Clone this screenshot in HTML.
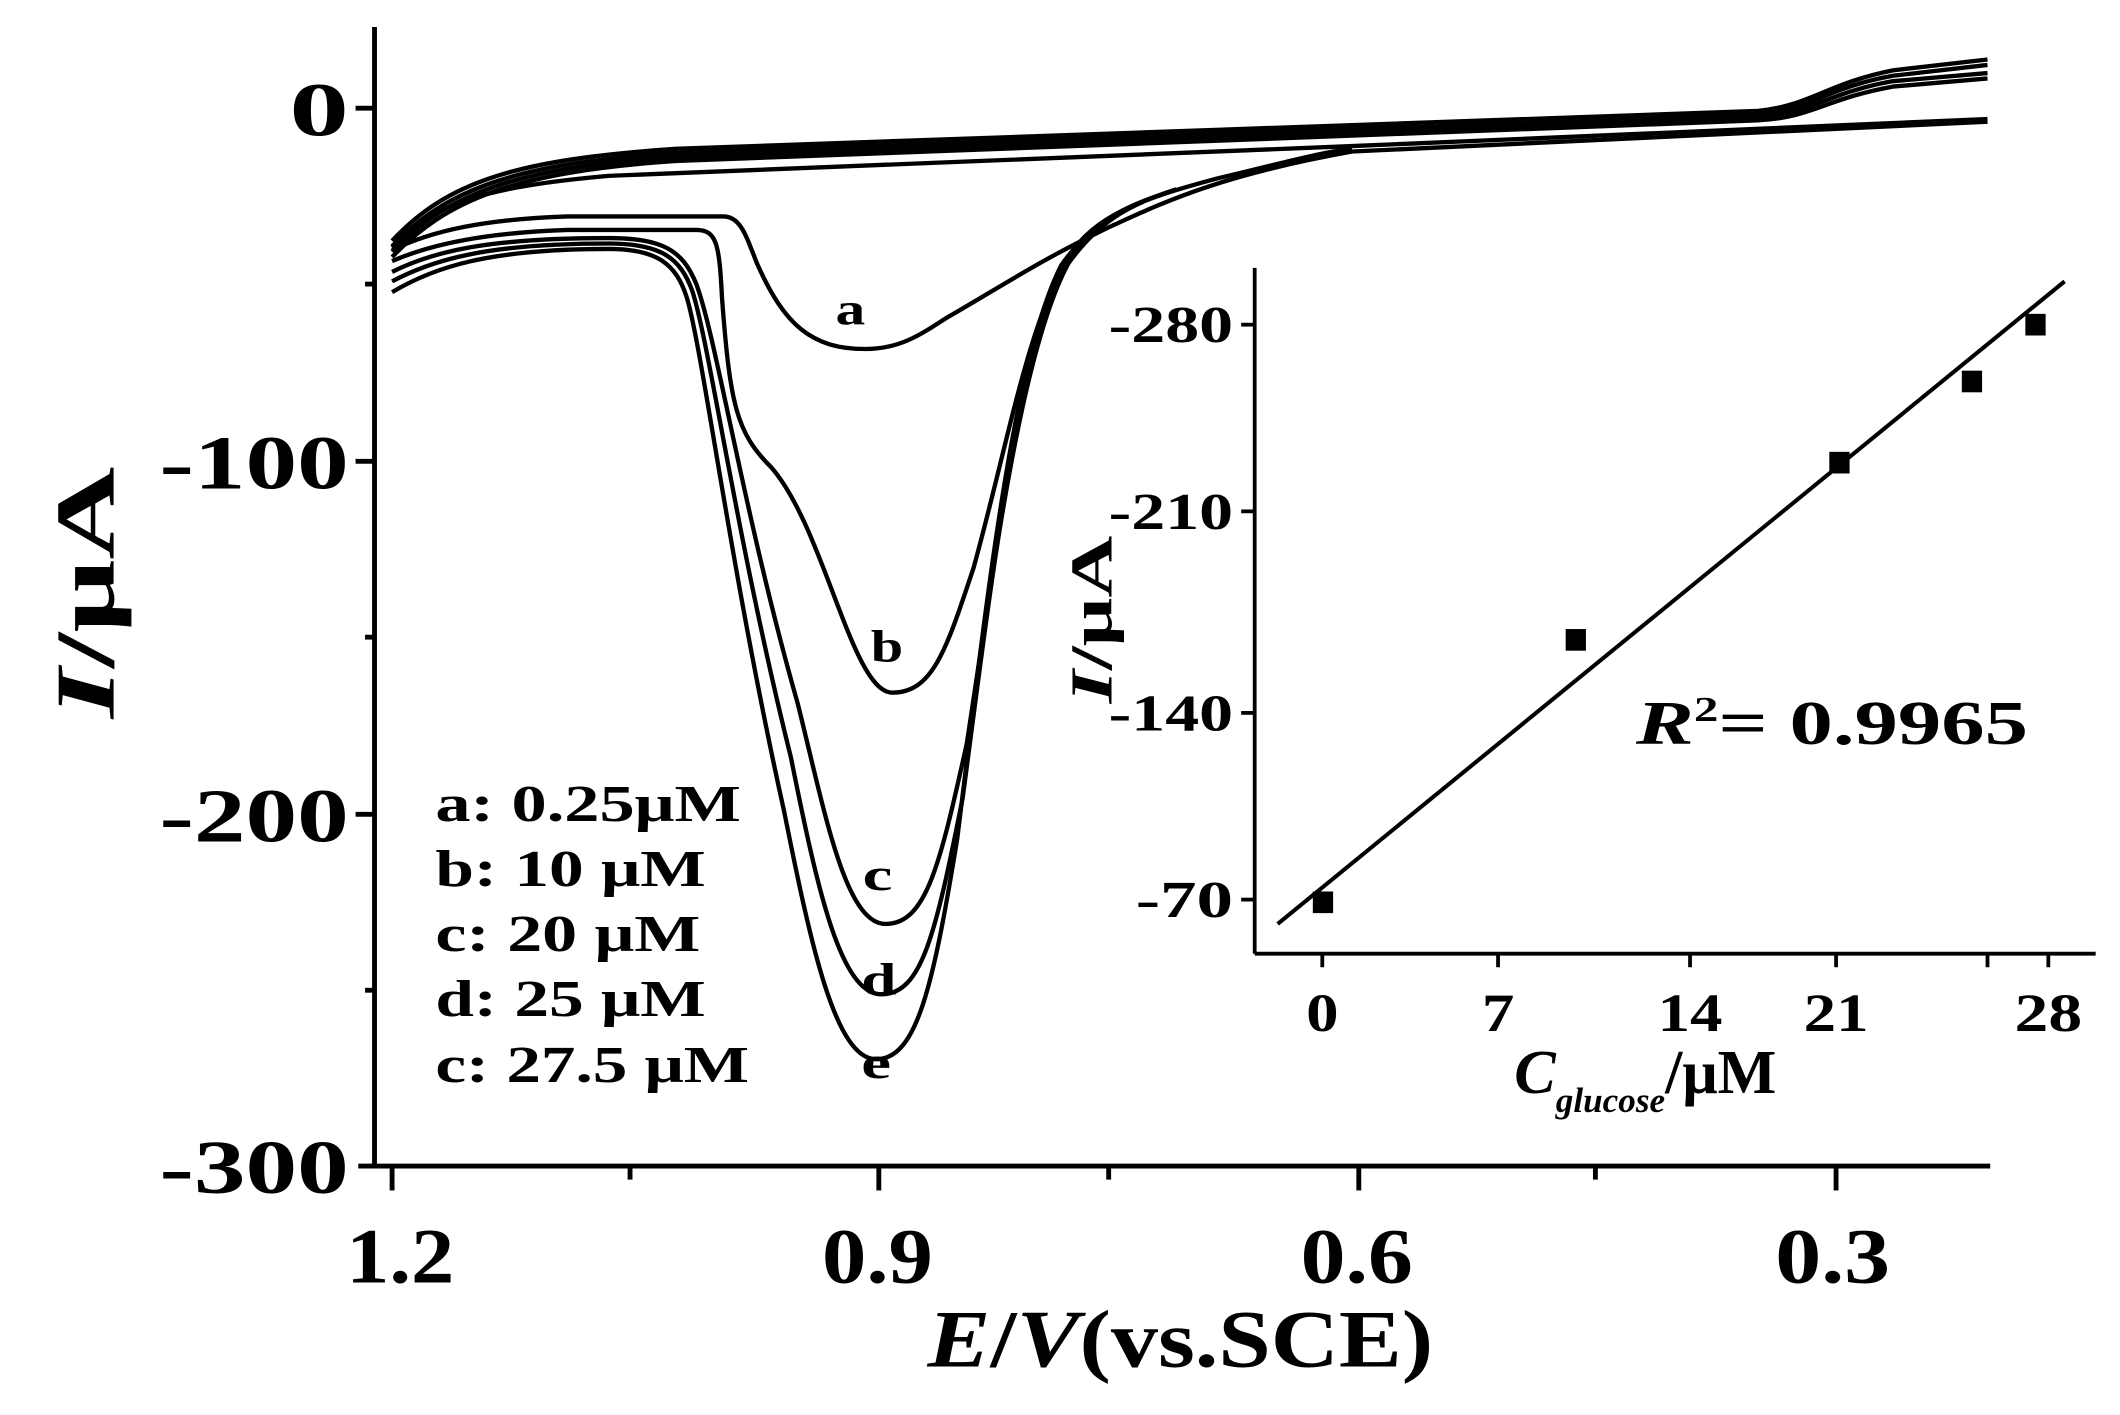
<!DOCTYPE html>
<html><head><meta charset="utf-8"><style>
html,body{margin:0;padding:0;background:#fff;}
svg{display:block;}
text{font-family:"Liberation Serif",serif;font-weight:bold;fill:#000;}
</style></head><body>
<svg width="2120" height="1415" viewBox="0 0 1568 1046" preserveAspectRatio="none" xmlns="http://www.w3.org/2000/svg">
<g fill="none" stroke="#000" stroke-width="3.6">
<line x1="277" y1="20" x2="277" y2="862"/>
<line x1="265" y1="862" x2="1472" y2="862"/>
<line x1="263" y1="80" x2="277" y2="80"/>
<line x1="263" y1="341" x2="277" y2="341"/>
<line x1="263" y1="602" x2="277" y2="602"/>
<line x1="270" y1="210" x2="277" y2="210"/>
<line x1="270" y1="471" x2="277" y2="471"/>
<line x1="270" y1="732" x2="277" y2="732"/>
<line x1="290" y1="862" x2="290" y2="880"/>
<line x1="650" y1="862" x2="650" y2="880"/>
<line x1="1005" y1="862" x2="1005" y2="880"/>
<line x1="1358" y1="862" x2="1358" y2="880"/>
<line x1="466" y1="862" x2="466" y2="872"/>
<line x1="820" y1="862" x2="820" y2="872"/>
<line x1="1180" y1="862" x2="1180" y2="872"/>
</g>
<g fill="none" stroke="#000" stroke-width="3.2">
<path d="M290,178 C330,135 380,118 500,110 L1300,82 C1340,78 1350,62 1400,52 L1470,44"/>
<path d="M290,182 C330,140 380,121 500,113 L1300,85 C1340,81 1350,65 1400,56 L1470,48"/>
<path d="M290,186 C330,144 380,124 500,116 L1300,87 C1340,84 1350,69 1400,60 L1470,54"/>
<path d="M290,190 C330,148 380,127 500,119 L1300,89 C1340,87 1350,73 1400,64 L1470,58"/>
<path d="M290,183 C320,150 360,138 450,130 L1000,108 L1470,88"/>
<path d="M290,185 C320,170 360,162 420,160 L535,160 C548,160 552,175 560,195 C580,240 600,258 640,258 C665,258 680,248 700,235 C740,212 770,192 820,168 C860,150 900,130 1000,112 L1470,90"/>
<path d="M290,193 C320,180 360,172 420,170 L515,170 C530,170 532,180 534,220 C540,300 545,320 570,345 C610,390 630,512 660,512 C690,512 700,480 720,420 C745,330 760,240 790,190 C810,160 840,148 900,132 C950,120 980,112 1000,110"/>
<path d="M290,201 C320,186 360,176 450,176 C490,176 505,185 515,210 C530,250 550,380 590,520 C610,600 625,683 655,683 C685,683 695,640 715,550 C735,420 755,260 790,195 C815,160 840,150 870,140"/>
<path d="M290,208 C320,192 360,180 450,180 C488,180 503,190 512,215 C525,255 545,400 585,560 C605,660 622,735 652,735 C682,735 692,690 712,590 C732,440 752,265 788,195 C812,160 840,150 870,140"/>
<path d="M290,216 C320,198 360,184 450,184 C486,184 500,195 508,220 C520,260 540,420 580,600 C600,700 618,783 648,783 C678,783 690,730 708,620 C728,460 748,268 785,196 C810,160 840,150 870,140"/>
</g>
<g font-size="34">
<text x="618" y="240" textLength="22" lengthAdjust="spacingAndGlyphs">a</text>
<text x="644" y="489" textLength="24" lengthAdjust="spacingAndGlyphs">b</text>
<text x="638" y="658" textLength="22" lengthAdjust="spacingAndGlyphs">c</text>
<text x="637" y="735" textLength="26" lengthAdjust="spacingAndGlyphs">d</text>
<text x="637" y="797" textLength="22" lengthAdjust="spacingAndGlyphs">e</text>
</g>
<g font-size="38" lengthAdjust="spacingAndGlyphs">
<text x="322" y="607" textLength="226" lengthAdjust="spacingAndGlyphs">a: 0.25μM</text>
<text x="322" y="655" textLength="200" lengthAdjust="spacingAndGlyphs">b: 10 μM</text>
<text x="322" y="703" textLength="196" lengthAdjust="spacingAndGlyphs">c: 20 μM</text>
<text x="322" y="751" textLength="200" lengthAdjust="spacingAndGlyphs">d: 25 μM</text>
<text x="322" y="800" textLength="232" lengthAdjust="spacingAndGlyphs">c: 27.5 μM</text>
</g>
<g font-size="56">
<text x="214" y="100" textLength="44" lengthAdjust="spacingAndGlyphs">0</text>
<text x="118" y="361" textLength="140" lengthAdjust="spacingAndGlyphs">-100</text>
<text x="118" y="622" textLength="140" lengthAdjust="spacingAndGlyphs">-200</text>
<text x="118" y="882" textLength="140" lengthAdjust="spacingAndGlyphs">-300</text>
</g>
<g font-size="58">
<text x="256" y="948" textLength="80" lengthAdjust="spacingAndGlyphs">1.2</text>
<text x="608" y="948" textLength="82" lengthAdjust="spacingAndGlyphs">0.9</text>
<text x="962" y="948" textLength="83" lengthAdjust="spacingAndGlyphs">0.6</text>
<text x="1313" y="948" textLength="85" lengthAdjust="spacingAndGlyphs">0.3</text>
</g>
<text x="686" y="1010" font-size="60" textLength="374" lengthAdjust="spacingAndGlyphs"><tspan font-style="italic">E</tspan>/<tspan font-style="italic">V</tspan>(vs.SCE)</text>
<text transform="translate(84,438) rotate(-90)" x="-93" y="0" font-size="62" textLength="186" lengthAdjust="spacingAndGlyphs"><tspan font-style="italic">I</tspan>/μA</text>
<g fill="none" stroke="#000" stroke-width="2.8">
<line x1="928" y1="198" x2="928" y2="705"/>
<line x1="928" y1="705" x2="1550" y2="705"/>
<line x1="918" y1="240" x2="928" y2="240"/>
<line x1="918" y1="378" x2="928" y2="378"/>
<line x1="918" y1="527" x2="928" y2="527"/>
<line x1="918" y1="665" x2="928" y2="665"/>
<line x1="978" y1="705" x2="978" y2="715"/>
<line x1="1108" y1="705" x2="1108" y2="715"/>
<line x1="1250" y1="705" x2="1250" y2="715"/>
<line x1="1358" y1="705" x2="1358" y2="715"/>
<line x1="1515" y1="705" x2="1515" y2="715"/>
<line x1="1470" y1="705" x2="1470" y2="715"/>
<line x1="945" y1="683" x2="1527" y2="208" stroke-width="3"/>
</g>
<g fill="#000">
<rect x="971" y="659" width="15" height="16"/>
<rect x="1158" y="465" width="15" height="16"/>
<rect x="1353" y="334" width="15" height="16"/>
<rect x="1451" y="274" width="15" height="16"/>
<rect x="1498" y="232" width="15" height="16"/>
</g>
<g font-size="38">
<text x="820" y="253" textLength="92" lengthAdjust="spacingAndGlyphs">-280</text>
<text x="820" y="391" textLength="92" lengthAdjust="spacingAndGlyphs">-210</text>
<text x="820" y="540" textLength="92" lengthAdjust="spacingAndGlyphs">-140</text>
<text x="840" y="678" textLength="72" lengthAdjust="spacingAndGlyphs">-70</text>
</g>
<g font-size="40">
<text x="966" y="762" textLength="24" lengthAdjust="spacingAndGlyphs">0</text>
<text x="1096" y="762" textLength="24" lengthAdjust="spacingAndGlyphs">7</text>
<text x="1226" y="762" textLength="48" lengthAdjust="spacingAndGlyphs">14</text>
<text x="1334" y="762" textLength="48" lengthAdjust="spacingAndGlyphs">21</text>
<text x="1490" y="762" textLength="50" lengthAdjust="spacingAndGlyphs">28</text>
</g>
<text x="1120" y="808" font-size="46"><tspan font-style="italic">C</tspan><tspan font-size="26" font-style="italic" dy="14">glucose</tspan><tspan dy="-14">/μM</tspan></text>
<text transform="translate(822,458) rotate(-90)" x="-62" y="0" font-size="44" textLength="124" lengthAdjust="spacingAndGlyphs"><tspan font-style="italic">I</tspan>/μA</text>
<text x="1210" y="550" font-size="46" textLength="290" lengthAdjust="spacingAndGlyphs"><tspan font-style="italic">R</tspan><tspan font-size="26" dy="-17">2</tspan><tspan dy="17">= 0.9965</tspan></text>
</svg>
</body></html>
